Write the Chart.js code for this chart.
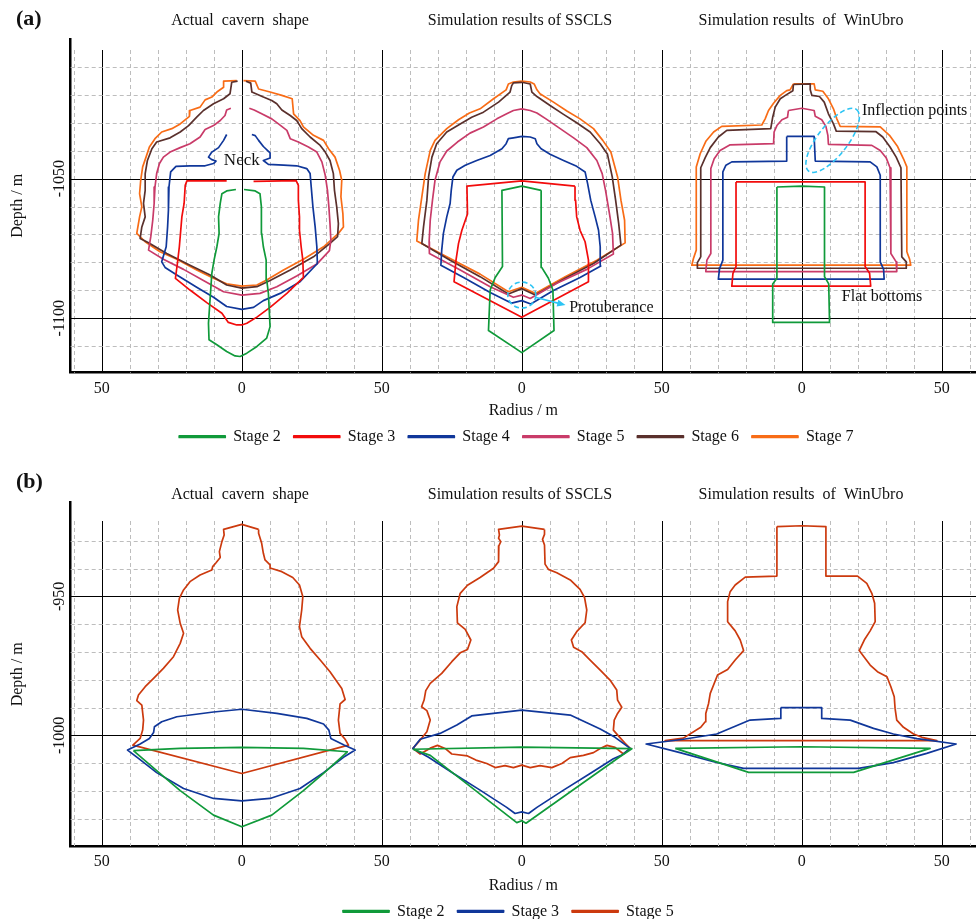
<!DOCTYPE html>
<html>
<head>
<meta charset="utf-8">
<script src="https://cdn.jsdelivr.net/npm/chart.js@4.4.1/dist/chart.umd.min.js"></script>
<style>
  html, body { margin: 0; padding: 0; background: #fff; }
  body { width: 976px; height: 919px; position: relative; overflow: hidden;
         font-family: "Liberation Serif", "Times New Roman", serif; color: #111; }
  canvas { position: absolute; left: 0; }
  #cvA { top: 0; }
  #cvB { top: 455px; }
  .lbl { position: absolute; white-space: pre; line-height: 1; transform: translate(-50%, -50%); }
  .tag { font-weight: bold; font-size: 22px; transform: translate(0, -50%); }
  .sub { font-size: 16px; }
</style>
</head>
<body>
<canvas id="cvA" width="976" height="455"></canvas>
<canvas id="cvB" width="976" height="480"></canvas>

<div class="lbl tag" style="left:16px;top:18px">(a)</div>
<div class="lbl sub" style="left:240px;top:20px">Actual  cavern  shape</div>
<div class="lbl sub" style="left:520px;top:20px">Simulation results of SSCLS</div>
<div class="lbl sub" style="left:801px;top:20px">Simulation results  of  WinUbro</div>

<div class="lbl tag" style="left:16px;top:481px">(b)</div>
<div class="lbl sub" style="left:240px;top:494px">Actual  cavern  shape</div>
<div class="lbl sub" style="left:520px;top:494px">Simulation results of SSCLS</div>
<div class="lbl sub" style="left:801px;top:494px">Simulation results  of  WinUbro</div>

<script>
// ---------- Cavern profiles: [radius (m), depth (m)] ----------

// (a) actual cavern shape
const aActual2 = [[-2.1,-1053.9],[-5.4,-1054.4],[-7.1,-1055.4],[-7.7,-1058.9],[-8.3,-1063.7],[-8.1,-1069.6],[-8.9,-1074.4],[-9.9,-1079.2],[-10.7,-1083.9],[-11.1,-1089.9],[-11.5,-1095.8],[-11.9,-1101.8],[-11.7,-1107.7],[-8.9,-1109.5],[-5.4,-1111.9],[-2.4,-1113.5],[-0.6,-1113.7],[1.8,-1112.5],[5.4,-1110.1],[8.9,-1107.1],[10.1,-1103.0],[9.8,-1097.0],[9.5,-1091.1],[8.9,-1086.3],[8.7,-1079.2],[7.7,-1074.4],[7.1,-1069.6],[6.9,-1064.9],[7.1,-1060.1],[6.5,-1055.4],[4.8,-1054.4],[0.8,-1053.9]];
const aActual3 = [[-5.4,-1050.8],[-19.6,-1050.8],[-20.2,-1052.4],[-20.6,-1058.9],[-21.4,-1063.7],[-21.8,-1068.5],[-22.3,-1074.4],[-23.0,-1080.4],[-23.7,-1085.7],[-18.5,-1089.9],[-12.5,-1094.4],[-7.1,-1098.2],[-4.8,-1101.5],[-1.8,-1102.4],[0,-1102.4],[1.8,-1101.8],[5.4,-1099.6],[10.1,-1096.1],[16.1,-1091.1],[22.0,-1085.4],[21.8,-1079.2],[21.2,-1074.4],[20.6,-1068.5],[20.6,-1063.7],[20.2,-1057.7],[20.2,-1052.4],[19.4,-1050.7],[4.2,-1051.0]];
const aActual4 = [[-5.4,-1034.2],[-6.5,-1036.3],[-8.3,-1038.9],[-10.7,-1040.5],[-11.9,-1042.3],[-10.7,-1043.2],[-9.2,-1043.7],[-10.1,-1044.6],[-13.1,-1045.4],[-18.5,-1045.4],[-23.5,-1045.6],[-25.4,-1047.6],[-26.0,-1053.0],[-26.2,-1061.3],[-26.5,-1067.3],[-27.0,-1074.4],[-28.6,-1079.8],[-27.4,-1081.8],[-23.2,-1084.5],[-16.1,-1088.9],[-10.1,-1092.5],[-5.4,-1095.8],[0,-1096.8],[4.2,-1096.1],[7.7,-1093.7],[13.7,-1091.1],[20.8,-1086.9],[27.0,-1080.4],[26.8,-1074.4],[26.2,-1067.3],[25.4,-1060.1],[24.8,-1053.0],[24.4,-1048.2],[23.2,-1046.4],[19.6,-1045.4],[14.9,-1045.2],[9.5,-1044.9],[7.7,-1043.5],[10.1,-1042.6],[10.1,-1040.8],[7.7,-1038.5],[6.0,-1036.3],[4.8,-1034.6],[3.6,-1034.2]];
const aActual5 = [[-3.9,-1024.8],[-5.4,-1025.4],[-6.0,-1027.4],[-7.7,-1029.2],[-10.1,-1031.0],[-13.1,-1032.4],[-14.9,-1035.1],[-18.5,-1037.5],[-22.0,-1038.9],[-25.6,-1040.5],[-28.0,-1042.3],[-29.4,-1044.6],[-30.4,-1048.2],[-31.0,-1053.0],[-31.3,-1058.9],[-31.8,-1064.9],[-32.5,-1070.8],[-33.3,-1075.6],[-28.0,-1078.9],[-20.8,-1082.5],[-13.7,-1086.5],[-6.5,-1090.5],[0,-1091.7],[6.5,-1091.1],[12.5,-1088.7],[19.6,-1084.9],[26.8,-1080.6],[31.3,-1075.8],[31.8,-1072.0],[31.5,-1066.1],[31.1,-1060.1],[30.6,-1054.2],[29.8,-1048.8],[28.6,-1044.0],[26.8,-1040.5],[23.8,-1038.7],[20.2,-1036.9],[17.3,-1035.7],[16.1,-1032.7],[13.1,-1030.4],[10.7,-1028.6],[7.1,-1026.8],[4.4,-1025.4],[2.7,-1024.8]];
const aActual6 = [[-1.5,-1015.1],[-3.6,-1015.5],[-4.2,-1019.6],[-6.5,-1021.4],[-10.1,-1023.2],[-13.7,-1025.6],[-16.1,-1028.0],[-19.0,-1031.0],[-22.0,-1033.3],[-25.6,-1035.4],[-30.4,-1036.9],[-32.1,-1039.3],[-33.7,-1043.5],[-34.5,-1048.2],[-34.5,-1054.2],[-35.1,-1058.9],[-34.5,-1063.7],[-35.7,-1067.3],[-36.3,-1071.4],[-33.3,-1073.0],[-26.8,-1076.8],[-18.5,-1081.0],[-11.3,-1084.5],[-5.4,-1088.1],[0,-1089.2],[5.4,-1088.7],[10.1,-1086.5],[17.3,-1082.7],[25.6,-1078.0],[31.5,-1073.2],[34.2,-1070.8],[34.5,-1066.1],[33.9,-1060.1],[33.1,-1054.2],[32.7,-1048.2],[31.5,-1043.5],[29.8,-1040.5],[28.0,-1038.1],[24.4,-1035.1],[21.4,-1032.1],[19.6,-1029.2],[17.3,-1027.4],[14.3,-1025.4],[12.5,-1023.2],[10.7,-1022.0],[7.7,-1020.8],[3.6,-1019.0],[3.2,-1015.8],[1.5,-1015.1]];
const aActual7 = [[-1.8,-1014.9],[-6.5,-1015.1],[-6.5,-1017.3],[-8.9,-1019.0],[-10.7,-1020.8],[-13.1,-1021.8],[-14.9,-1024.4],[-18.5,-1025.6],[-18.7,-1027.7],[-22.0,-1030.4],[-25.0,-1032.1],[-28.6,-1033.3],[-31.0,-1035.7],[-33.0,-1038.7],[-34.2,-1042.3],[-35.4,-1045.8],[-36.1,-1050.6],[-36.5,-1055.4],[-35.7,-1060.1],[-36.5,-1063.7],[-37.5,-1069.6],[-34.5,-1072.6],[-29.2,-1076.2],[-23.2,-1078.9],[-16.1,-1082.7],[-10.1,-1085.7],[-5.4,-1087.7],[0,-1088.5],[5.4,-1088.1],[8.9,-1086.3],[14.9,-1082.7],[22.0,-1078.9],[29.2,-1074.4],[34.5,-1069.6],[36.3,-1067.3],[36.1,-1062.5],[35.4,-1056.5],[35.7,-1050.6],[34.9,-1047.0],[33.3,-1042.3],[31.0,-1039.3],[29.2,-1036.3],[25.6,-1034.5],[22.0,-1031.5],[20.8,-1029.2],[18.5,-1026.8],[18.0,-1021.4],[14.3,-1020.2],[10.1,-1019.0],[6.0,-1017.9],[4.8,-1015.1],[0.6,-1014.9]];

// (a) SSCLS simulation
const aSscls2 = [[6.9,-1054.2],[0,-1052.7],[-7.1,-1054.2],[-6.9,-1081.5],[-9.5,-1085.4],[-11.3,-1089.9],[-11.9,-1104.4],[0,-1112.3],[11.5,-1104.4],[11.1,-1089.9],[9.5,-1085.7],[7.1,-1081.8],[6.9,-1054.2]];
const aSscls3 = [[19.0,-1052.7],[0,-1050.8],[-19.6,-1052.7],[-19.4,-1062.7],[-21.4,-1068.5],[-22.6,-1073.2],[-23.5,-1079.2],[-24.2,-1086.9],[0,-1099.6],[23.8,-1086.9],[23.8,-1079.2],[22.6,-1072.6],[20.8,-1068.5],[19.6,-1063.7],[19.2,-1057.7],[19.0,-1052.7]];
const aSscls4 = [[0,-1034.9],[-3.0,-1035.4],[-4.8,-1035.7],[-5.6,-1037.5],[-7.1,-1039.3],[-11.3,-1041.7],[-16.1,-1043.5],[-20.2,-1045.2],[-23.2,-1047.0],[-24.6,-1049.4],[-25.2,-1054.2],[-25.6,-1058.9],[-26.8,-1063.7],[-28.0,-1069.6],[-28.6,-1075.6],[-28.9,-1081.0],[-20.8,-1085.4],[-11.3,-1090.8],[-3.6,-1094.6],[0,-1093.7],[3.2,-1094.9],[11.3,-1090.1],[20.8,-1085.4],[28.2,-1081.3],[28.0,-1074.4],[27.4,-1068.5],[26.2,-1063.7],[24.6,-1057.7],[23.5,-1051.8],[22.6,-1047.6],[19.6,-1045.6],[14.9,-1043.5],[10.1,-1041.3],[6.9,-1039.3],[5.4,-1037.5],[4.8,-1035.7],[3.0,-1035.1],[0,-1034.9]];
const aSscls5 = [[0,-1025.0],[-3.0,-1025.6],[-5.4,-1026.8],[-8.9,-1028.6],[-13.7,-1031.5],[-18.5,-1033.7],[-23.0,-1036.9],[-26.8,-1040.1],[-29.2,-1044.0],[-31.0,-1050.6],[-31.9,-1057.7],[-32.7,-1064.9],[-33.1,-1072.6],[-33.0,-1076.8],[-22.0,-1082.7],[-11.3,-1088.7],[-3.0,-1092.5],[0,-1091.7],[3.0,-1092.9],[12.5,-1087.5],[23.2,-1082.5],[32.7,-1077.0],[32.4,-1069.6],[31.3,-1062.5],[29.9,-1054.2],[28.7,-1048.2],[26.8,-1043.5],[23.2,-1038.9],[18.5,-1035.4],[13.7,-1032.1],[8.9,-1028.8],[5.4,-1026.5],[3.0,-1025.6],[0,-1025.0]];
const aSscls6 = [[0,-1015.5],[-3.0,-1015.7],[-3.6,-1016.7],[-4.2,-1019.0],[-8.3,-1022.6],[-13.7,-1026.2],[-17.9,-1028.0],[-22.0,-1030.4],[-26.8,-1033.3],[-30.4,-1037.5],[-32.1,-1042.3],[-33.3,-1049.4],[-33.9,-1057.7],[-35.1,-1067.3],[-35.7,-1073.2],[-25.6,-1079.2],[-14.9,-1085.1],[-4.8,-1091.3],[0,-1089.4],[4.8,-1091.7],[15.5,-1085.7],[25.6,-1080.4],[35.4,-1073.8],[34.6,-1066.1],[33.5,-1057.7],[32.3,-1049.4],[30.6,-1041.3],[28.0,-1037.5],[24.4,-1033.3],[19.6,-1030.0],[14.9,-1027.0],[10.1,-1023.8],[5.4,-1020.6],[3.6,-1019.0],[3.0,-1016.1],[0,-1015.5]];
const aSscls7 = [[0,-1015.1],[-3.0,-1015.4],[-4.8,-1016.1],[-5.6,-1018.2],[-10.1,-1021.4],[-14.9,-1025.0],[-18.7,-1026.5],[-22.6,-1028.9],[-26.8,-1032.1],[-31.0,-1036.3],[-32.7,-1039.9],[-34.5,-1048.2],[-35.7,-1056.5],[-36.9,-1064.9],[-37.5,-1072.3],[-26.8,-1078.0],[-14.9,-1084.2],[-4.8,-1090.5],[0,-1088.9],[4.8,-1091.1],[15.5,-1085.1],[26.8,-1079.2],[36.9,-1073.0],[36.7,-1064.9],[35.4,-1057.7],[34.2,-1049.4],[31.8,-1040.5],[28.9,-1036.3],[25.6,-1032.1],[20.8,-1028.6],[16.1,-1025.8],[11.3,-1022.6],[6.5,-1019.6],[5.4,-1018.2],[4.4,-1016.1],[3.0,-1015.4],[0,-1015.1]];

// (a) WinUbro simulation
const aWinubro2 = [[-8.9,-1053.0],[0,-1052.7],[8.1,-1053.0],[8.1,-1085.1],[9.6,-1087.7],[9.9,-1101.5],[-10.4,-1101.5],[-10.4,-1087.7],[-8.9,-1085.7],[-8.9,-1053.0]];
const aWinubro3 = [[-23.5,-1051.2],[22.6,-1051.2],[22.6,-1081.5],[24.2,-1083.9],[24.6,-1088.5],[-25.0,-1088.5],[-24.6,-1083.9],[-23.5,-1081.5],[-23.5,-1051.2]];
const aWinubro4 = [[-5.4,-1034.9],[4.4,-1034.9],[4.8,-1043.7],[24.4,-1044.0],[26.8,-1045.8],[28.0,-1048.8],[28.0,-1079.8],[29.2,-1082.5],[29.4,-1086.0],[-29.8,-1086.0],[-29.4,-1082.3],[-28.2,-1079.2],[-28.2,-1047.6],[-27.1,-1045.2],[-25.0,-1044.0],[-5.4,-1043.7],[-5.4,-1034.9]];
const aWinubro5 = [[-4.8,-1025.6],[0,-1024.8],[4.4,-1025.6],[4.8,-1027.7],[7.1,-1028.9],[8.6,-1031.3],[9.3,-1034.5],[9.5,-1037.7],[25.0,-1038.1],[28.0,-1039.9],[30.1,-1042.5],[31.5,-1046.1],[31.8,-1076.8],[33.7,-1079.8],[33.9,-1083.3],[-34.3,-1083.3],[-33.9,-1079.2],[-32.5,-1076.8],[-32.5,-1046.4],[-31.3,-1042.9],[-29.2,-1039.9],[-25.6,-1037.9],[-10.1,-1037.5],[-9.9,-1033.3],[-8.9,-1031.0],[-7.1,-1028.9],[-5.1,-1028.0],[-4.8,-1025.6]];
const aWinubro6 = [[-3.0,-1016.3],[-3.2,-1018.5],[-5.6,-1020.0],[-7.7,-1021.4],[-9.5,-1024.4],[-10.4,-1028.0],[-11.1,-1032.1],[-26.8,-1032.7],[-29.8,-1035.1],[-32.7,-1038.9],[-34.5,-1042.5],[-36.1,-1046.1],[-36.1,-1078.0],[-37.3,-1080.1],[-37.3,-1082.1],[37.3,-1082.1],[37.3,-1079.8],[35.7,-1078.0],[35.4,-1046.1],[33.7,-1042.3],[31.5,-1038.7],[28.9,-1035.1],[26.5,-1033.2],[12.3,-1033.0],[11.3,-1030.4],[9.5,-1026.8],[8.0,-1022.6],[6.3,-1020.6],[3.6,-1020.2],[3.0,-1018.2],[3.0,-1016.1],[-3.0,-1016.3]];
const aWinubro7 = [[-3.0,-1016.1],[4.4,-1016.1],[4.8,-1018.2],[7.5,-1018.7],[9.5,-1021.4],[11.3,-1025.0],[12.5,-1028.6],[13.7,-1031.3],[28.0,-1031.5],[31.3,-1034.5],[34.2,-1038.5],[36.3,-1042.9],[37.5,-1045.8],[37.5,-1076.2],[38.5,-1078.9],[38.9,-1081.0],[-39.3,-1081.0],[-38.7,-1078.6],[-37.7,-1075.6],[-37.7,-1045.8],[-36.3,-1041.1],[-34.2,-1036.5],[-31.5,-1033.3],[-28.6,-1031.3],[-14.3,-1030.8],[-13.1,-1028.6],[-11.9,-1025.6],[-10.1,-1023.0],[-7.7,-1020.2],[-5.4,-1018.5],[-4.2,-1018.2],[-3.0,-1016.1]];

// (b) actual cavern shape
const bActual2 = [[-38.7,-1005.5],[-22.0,-1004.7],[0,-1004.3],[22.0,-1004.7],[37.7,-1005.9],[29.8,-1013.1],[22.0,-1019.9],[10.7,-1028.7],[0,-1032.9],[-10.1,-1028.7],[-22.0,-1019.9],[-30.4,-1012.7],[-38.7,-1005.5]];
const bActual3 = [[0,-990.6],[-10.1,-991.6],[-23.2,-993.3],[-28.6,-995.1],[-31.2,-996.9],[-31.5,-999.0],[-33.0,-1001.1],[-36.3,-1003.1],[-40.8,-1005.3],[-36.9,-1008.3],[-30.4,-1013.4],[-20.8,-1019.1],[-10.1,-1022.7],[0,-1023.6],[10.1,-1022.7],[20.8,-1019.1],[29.2,-1013.4],[36.3,-1007.9],[40.5,-1005.3],[36.5,-1003.5],[31.8,-1001.1],[31.1,-998.1],[29.2,-995.9],[23.2,-993.9],[12.5,-992.1],[0,-990.6]];
const bActual5 = [[6.0,-925.9],[0,-924.1],[-6.5,-925.9],[-6.3,-927.9],[-7.1,-930.3],[-8.0,-933.9],[-7.7,-936.0],[-9.2,-937.9],[-10.4,-939.3],[-10.7,-940.5],[-14.9,-942.3],[-18.5,-944.7],[-20.8,-947.7],[-22.3,-950.7],[-22.9,-954.9],[-22.0,-959.7],[-20.8,-963.3],[-22.0,-966.9],[-24.4,-971.7],[-28.0,-975.9],[-31.5,-979.5],[-34.5,-982.5],[-36.9,-985.5],[-37.5,-987.5],[-35.7,-989.1],[-35.1,-994.5],[-35.4,-998.1],[-36.3,-1001.1],[-38.9,-1003.5],[0,-1013.7],[38.1,-1003.5],[36.9,-1001.4],[35.1,-999.3],[34.5,-994.5],[35.1,-988.7],[36.9,-987.1],[35.7,-983.1],[31.5,-977.1],[28.0,-972.9],[24.4,-968.7],[21.4,-964.5],[20.6,-960.9],[21.4,-954.9],[21.8,-950.1],[20.6,-945.9],[18.2,-943.2],[14.3,-941.1],[10.4,-939.9],[10.1,-938.7],[8.3,-936.9],[7.7,-934.5],[7.1,-930.9],[6.0,-927.3],[6.0,-925.9]];

// (b) SSCLS simulation
const bSscls2 = [[-38.9,-1005.0],[0,-1004.2],[39.3,-1004.8],[35.4,-1007.4],[1.5,-1031.6],[0,-1030.7],[-1.8,-1031.4],[-32.7,-1007.2],[-38.9,-1005.0]];
const bSscls3 = [[0,-990.9],[-17.9,-993.0],[-23.2,-996.3],[-29.2,-999.3],[-36.3,-1001.4],[-38.9,-1004.7],[-33.3,-1007.9],[-24.4,-1013.7],[-14.9,-1019.7],[-5.4,-1025.9],[-2.4,-1028.1],[0,-1027.5],[2.4,-1028.1],[5.4,-1025.9],[14.9,-1019.7],[24.4,-1013.7],[32.7,-1008.4],[35.7,-1007.1],[38.7,-1004.7],[33.3,-1000.7],[28.0,-997.7],[17.3,-992.7],[0,-990.9]];
const bSscls5 = [[8.1,-925.9],[0,-924.7],[-8.3,-925.9],[-8.0,-927.9],[-8.3,-929.1],[-7.5,-930.3],[-8.2,-931.8],[-8.3,-937.5],[-10.1,-939.9],[-14.9,-943.2],[-19.4,-946.0],[-22.0,-948.9],[-23.2,-953.7],[-23.0,-959.5],[-20.2,-961.9],[-18.2,-965.7],[-19.4,-969.1],[-22.0,-970.3],[-25.0,-973.5],[-28.6,-977.7],[-32.7,-981.3],[-34.3,-983.9],[-34.9,-987.3],[-35.8,-989.7],[-33.9,-991.1],[-32.7,-994.5],[-33.9,-998.7],[-36.3,-1001.7],[-38.9,-1004.7],[-36.3,-1006.7],[-32.7,-1004.6],[-30.1,-1003.6],[-27.4,-1004.7],[-25.0,-1006.7],[-19.4,-1007.4],[-16.4,-1008.9],[-12.5,-1010.1],[-9.5,-1011.6],[-6.0,-1010.9],[-3.0,-1011.6],[0,-1010.7],[3.0,-1011.6],[6.5,-1010.9],[10.7,-1011.6],[14.3,-1010.1],[17.3,-1008.0],[22.0,-1007.2],[25.6,-1006.2],[28.0,-1004.7],[30.4,-1003.6],[33.3,-1004.3],[36.3,-1006.7],[38.7,-1004.7],[36.9,-1002.9],[34.5,-1000.2],[32.7,-998.1],[33.0,-994.5],[34.2,-992.1],[35.7,-989.9],[34.2,-987.3],[33.9,-983.7],[31.5,-980.1],[28.0,-976.5],[24.4,-972.9],[21.4,-969.9],[18.5,-968.3],[17.7,-965.7],[19.6,-962.7],[22.6,-959.5],[23.2,-954.9],[22.4,-950.4],[20.8,-947.5],[17.3,-944.1],[12.5,-941.5],[9.5,-940.3],[8.3,-938.4],[8.1,-931.5],[7.4,-929.5],[8.1,-927.7],[8.1,-925.9]];

// (b) WinUbro simulation
const bWinubro2 = [[-45.2,-1004.7],[0,-1004.1],[45.8,-1004.7],[18.5,-1013.3],[-19.0,-1013.3],[-45.2,-1004.7]];
const bWinubro3 = [[-7.5,-990.0],[7.1,-990.0],[7.1,-993.9],[17.3,-994.5],[25.6,-997.5],[32.7,-999.5],[41.1,-1001.2],[55.1,-1003.1],[44.6,-1006.5],[32.7,-1009.8],[20.2,-1011.9],[-20.8,-1011.9],[-31.5,-1009.5],[-43.5,-1006.2],[-55.6,-1003.1],[-42.3,-1001.4],[-30.4,-999.5],[-18.5,-994.5],[-7.7,-993.9],[-7.5,-990.0]];
const bWinubro5 = [[-8.9,-924.9],[0,-924.6],[8.6,-924.9],[8.6,-942.7],[19.9,-942.7],[23.2,-945.3],[25.0,-948.9],[26.0,-952.5],[26.2,-959.1],[24.4,-962.4],[22.3,-965.7],[20.5,-969.5],[22.3,-971.9],[24.4,-974.7],[27.0,-977.1],[30.4,-978.9],[31.8,-982.5],[33.0,-986.1],[33.3,-990.3],[33.9,-994.5],[36.3,-997.1],[39.9,-999.5],[42.9,-1000.7],[48.2,-1001.9],[-48.8,-1001.9],[-42.3,-1001.0],[-36.1,-997.1],[-34.5,-995.1],[-34.3,-992.1],[-33.3,-988.5],[-32.7,-984.9],[-30.1,-978.3],[-26.5,-976.3],[-23.8,-972.9],[-20.8,-969.5],[-22.0,-965.7],[-23.8,-962.4],[-26.5,-959.1],[-26.5,-951.9],[-25.6,-948.3],[-23.8,-945.9],[-20.2,-943.1],[-8.9,-942.7],[-8.9,-924.9]];

// Stage names and line colours
const stagesA = ['Stage 2', 'Stage 3', 'Stage 4', 'Stage 5', 'Stage 6', 'Stage 7'];
const coloursA = ['#109a3a', '#f20c0c', '#10379a', '#c93b69', '#5a302c', '#f86c16'];
const stagesB = ['Stage 2', 'Stage 3', 'Stage 5'];
const coloursB = ['#109a3a', '#10379a', '#cc3a0e'];

// Each stage: [actual, SSCLS, WinUbro]
const profilesA = [
  [aActual2, aSscls2, aWinubro2],
  [aActual3, aSscls3, aWinubro3],
  [aActual4, aSscls4, aWinubro4],
  [aActual5, aSscls5, aWinubro5],
  [aActual6, aSscls6, aWinubro6],
  [aActual7, aSscls7, aWinubro7]
];
const profilesB = [
  [bActual2, bSscls2, bWinubro2],
  [bActual3, bSscls3, bWinubro3],
  [bActual5, bSscls5, bWinubro5]
];

// the three sub-panels share one radius axis; each is centred 100 m apart
const panelCentres = [0, 100, 200];

const FONT = '"Liberation Serif", "Times New Roman", serif';
Chart.defaults.font.family = FONT;
Chart.defaults.color = '#111';

function joinProfiles(parts) {
  const out = [];
  parts.forEach((list, i) => {
    if (i) out.push({ x: null, y: null });
    list.forEach(p => out.push({ x: p[0] + panelCentres[i], y: p[1] }));
  });
  return out;
}

function buildDatasets(names, colours, profiles) {
  return names.map((name, i) => ({
    label: name,
    data: joinProfiles(profiles[i]),
    borderColor: colours[i],
    backgroundColor: colours[i],
    borderWidth: 1.7,
    pointRadius: 0,
    showLine: true,
    tension: 0,
    spanGaps: false,
    borderJoinStyle: 'round'
  }));
}

// dashed minor / solid major grid; vertical lines start a little below the top
const gridPlugin = {
  id: 'cavGrid',
  beforeDatasetsDraw(chart, args, opts) {
    const { ctx, chartArea: ca, scales: { x, y } } = chart;
    const top = Math.round(y.getPixelForValue(opts.top));
    ctx.save();
    ctx.lineWidth = 1;
    for (let v = Math.ceil(x.min / 10) * 10; v <= x.max; v += 10) {
      const px = Math.round(x.getPixelForValue(v)) + 0.5;
      const major = Math.abs(v % 50) < 1e-9;
      ctx.setLineDash(major ? [] : [4, 3]);
      ctx.strokeStyle = major ? '#000' : '#bdbdbd';
      ctx.beginPath(); ctx.moveTo(px, top); ctx.lineTo(px, ca.bottom); ctx.stroke();
    }
    for (let v = Math.ceil(y.min / 10) * 10; v <= opts.top; v += 10) {
      const py = Math.round(y.getPixelForValue(v)) + 0.5;
      const major = Math.abs(v % 50) < 1e-9;
      ctx.setLineDash(major ? [] : [4, 3]);
      ctx.strokeStyle = major ? '#000' : '#bdbdbd';
      ctx.beginPath(); ctx.moveTo(ca.left, py); ctx.lineTo(ca.right, py); ctx.stroke();
    }
    ctx.restore();
  }
};

// nudge the legend sideways after layout
const legendShift = {
  id: 'legendShift',
  afterLayout(chart, args, opts) {
    const L = chart.legend;
    if (L && opts.dx) { L.left += opts.dx; L.right += opts.dx; }
  }
};

// callouts drawn in data coordinates
const notesPlugin = {
  id: 'cavNotes',
  afterDatasetsDraw(chart, args, opts) {
    if (!opts.texts) return;
    const { ctx, scales: { x, y } } = chart;
    ctx.save();
    ctx.strokeStyle = '#2cc4f4';
    ctx.fillStyle = '#2cc4f4';
    ctx.lineWidth = 1.6;
    (opts.ellipses || []).forEach(e => {
      ctx.setLineDash([5, 3]);
      ctx.beginPath();
      ctx.ellipse(x.getPixelForValue(e.x), y.getPixelForValue(e.y), e.rx, e.ry, e.rot * Math.PI / 180, 0, Math.PI * 2);
      ctx.stroke();
    });
    ctx.setLineDash([]);
    (opts.arrows || []).forEach(a => {
      const x0 = x.getPixelForValue(a.from[0]), y0 = y.getPixelForValue(a.from[1]);
      const x1 = x.getPixelForValue(a.to[0]), y1 = y.getPixelForValue(a.to[1]);
      const ang = Math.atan2(y1 - y0, x1 - x0);
      ctx.beginPath(); ctx.moveTo(x0, y0); ctx.lineTo(x1 - 5 * Math.cos(ang), y1 - 5 * Math.sin(ang)); ctx.stroke();
      ctx.beginPath();
      ctx.moveTo(x1, y1);
      ctx.lineTo(x1 - 9 * Math.cos(ang - 0.4), y1 - 9 * Math.sin(ang - 0.4));
      ctx.lineTo(x1 - 9 * Math.cos(ang + 0.4), y1 - 9 * Math.sin(ang + 0.4));
      ctx.closePath(); ctx.fill();
    });
    ctx.fillStyle = '#111';
    ctx.textBaseline = 'middle';
    opts.texts.forEach(t => {
      ctx.font = (t.size || 16) + 'px ' + FONT;
      ctx.textAlign = t.align || 'left';
      ctx.fillText(t.text, x.getPixelForValue(t.x), y.getPixelForValue(t.y));
    });
    ctx.restore();
  }
};

function depthLabel(gridTop) {
  return v => (Math.abs(v % 50) < 1e-9 && v < gridTop) ? String(v) : '';
}
function radiusLabel(v) {
  if (Math.abs(v % 50) > 1e-9) return '';
  return Math.abs(v % 100) < 1e-9 ? '0' : '50';
}

function makePanel(id, o) {
  const chart = new Chart(document.getElementById(id), {
    type: 'scatter',
    data: { datasets: buildDatasets(o.names, o.colours, o.profiles) },
    options: {
      responsive: false,
      animation: false,
      events: [],
      layout: { autoPadding: false, padding: { top: o.top, left: 0, right: 0, bottom: 0 } },
      scales: {
        x: {
          type: 'linear', min: -61.1, max: 262.2,
          afterFit(s) { s.height = o.xHeight; },
          grid: { display: false, drawTicks: false },
          border: { display: true, color: '#000', width: 2.5 },
          ticks: { stepSize: 50, includeBounds: false, autoSkip: false, maxRotation: 0, padding: 6,
                   font: { size: 16 }, color: '#111', callback: radiusLabel },
          title: { display: true, text: 'Radius / m', font: { size: 16 }, color: '#111', padding: { top: 0, bottom: -5 } }
        },
        y: {
          type: 'linear', min: o.yMin, max: o.yMax,
          afterFit(s) { s.width = 70.7; },
          grid: { display: false, drawTicks: false },
          border: { display: true, color: '#000', width: 2.5 },
          ticks: { stepSize: 50, includeBounds: false, minRotation: 90, maxRotation: 90, crossAlign: 'center',
                   padding: -8, font: { size: 16 }, color: '#111', callback: depthLabel(o.gridTop) },
          title: { display: true, text: 'Depth / m', font: { size: 16 }, color: '#111', padding: { top: 8, bottom: 0 } }
        }
      },
      plugins: {
        tooltip: { enabled: false },
        legend: {
          position: 'bottom', fullSize: false,
          labels: { boxWidth: 46, boxHeight: 1.5, padding: 13, font: { size: 16 }, color: '#111' }
        },
        cavGrid: { top: o.gridTop },
        legendShift: { dx: o.legendDx },
        cavNotes: o.notes || {}
      }
    },
    plugins: [gridPlugin, legendShift, notesPlugin]
  });
  // settle the plot bottom at the intended position
  const diff = chart.chartArea.bottom - o.bottom;
  if (Math.abs(diff) > 0.2) {
    chart.options.layout.padding.bottom += diff;
    chart.update('none');
  }
  return chart;
}

makePanel('cvA', {
  names: stagesA, colours: coloursA, profiles: profilesA,
  top: 39, bottom: 372.7, xHeight: 43, yMin: -1119.5, yMax: -1000, gridTop: -1004, legendDx: -7,
  notes: {
    texts: [
      { text: 'Neck', x: 0, y: -1043.5, align: 'center', size: 17 },
      { text: 'Protuberance', x: 116.9, y: -1096.3 },
      { text: 'Inflection points', x: 221.5, y: -1025.6 },
      { text: 'Flat bottoms', x: 214.3, y: -1092.4 }
    ],
    ellipses: [
      { x: 100, y: -1091.7, rx: 14, ry: 13, rot: 0 },
      { x: 211, y: -1036.3, rx: 39, ry: 15, rot: -52 }
    ],
    arrows: [ { from: [104.8, -1092.5], to: [115.6, -1095.3] } ]
  }
});

makePanel('cvB', {
  names: stagesB, colours: coloursB, profiles: profilesB,
  top: 47.7, bottom: 391, xHeight: 44.3, yMin: -1039.8, yMax: -916.3, gridTop: -923, legendDx: -15
});
</script>
</body>
</html>
